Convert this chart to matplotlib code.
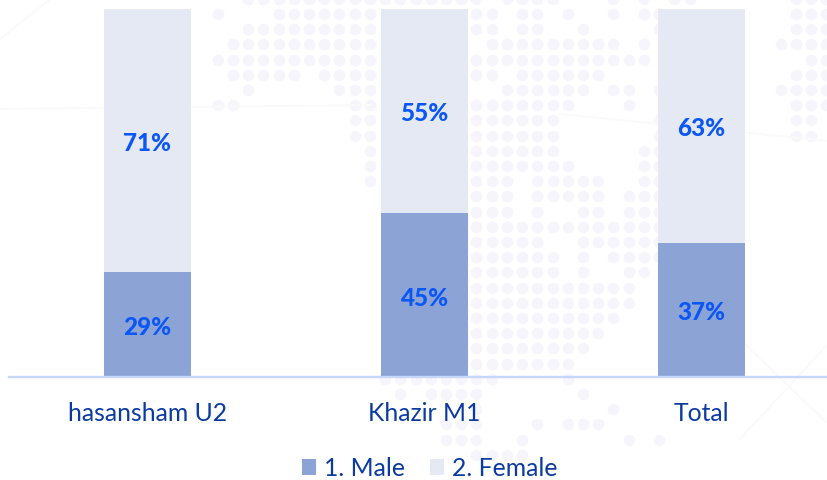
import matplotlib
matplotlib.use("Agg")
import matplotlib.pyplot as plt

categories = ["hasansham U2", "Khazir M1", "Total"]
male = [28.4, 44.4, 36.4]
female = [71.6, 55.6, 63.6]
series_names = ["1. Male", "2. Female"]
male_labels = ["29%", "45%", "37%"]
female_labels = ["71%", "55%", "63%"]

# decorative world-map dot pattern of the backdrop: row -> column spans
dot_rows = {
    -1: [(2, 17), (19, 22), (26, 26), (28, 28), (30, 31), (38, 40)],
    0: [(0, 0), (4, 10), (17, 18), (20, 21), (23, 23), (26, 26), (28, 29), (38, 40)],
    1: [(2, 10), (17, 18), (20, 21), (24, 24), (29, 29), (38, 40)],
    2: [(1, 10), (18, 26), (28, 28), (37, 40)],
    3: [(0, 10), (17, 28), (39, 40)],
    4: [(1, 5), (7, 10), (17, 18), (20, 25), (38, 40)],
    5: [(2, 2), (8, 10), (19, 24), (26, 27), (29, 29), (37, 40)],
    6: [(0, 1), (9, 10), (17, 23), (27, 27), (38, 40)],
    7: [(9, 10), (17, 22), (29, 29), (38, 39)],
    8: [(9, 10), (17, 22), (29, 29), (38, 39)],
    9: [(10, 10), (17, 22), (28, 29)],
    10: [(10, 10), (17, 23), (28, 29)],
    11: [(10, 10), (17, 19), (21, 25), (28, 29)],
    12: [(17, 19), (21, 25), (27, 29)],
    13: [(17, 19), (21, 21), (24, 25), (27, 29)],
    14: [(17, 29)],
    15: [(17, 21), (24, 29)],
    16: [(17, 22), (24, 24), (26, 29)],
    17: [(17, 22), (24, 24), (27, 28)],
    18: [(17, 27)],
    19: [(17, 27)],
    20: [(17, 26)],
    21: [(17, 25)],
    22: [(17, 24)],
    23: [(17, 23)],
    24: [(11, 18), (23, 23)],
    25: [(12, 12), (14, 17), (24, 24)],
    26: [(17, 17), (26, 26)],
    27: [(15, 17), (21, 21), (23, 25)],
    28: [(15, 17), (20, 20), (27, 27), (29, 29)],
    29: [(17, 20)],
}
faint_lines = [
    ((0, 40), (50, 0)),
    ((0, 110), (370, 106)),
    ((560, 115), (828, 142)),
    ((745, 345), (828, 425)),
    ((828, 345), (740, 440)),
]

plt.rcParams["font.family"] = ["Lato", "DejaVu Sans"]
W, H = 828, 481
fig = plt.figure(figsize=(W / 100, H / 100), dpi=100, facecolor="white")

bg = fig.add_axes([0, 0, 1, 1], zorder=0)
bg.set_xlim(0, W)
bg.set_ylim(H, 0)
bg.axis("off")
xs, ys = [], []
for j, spans in dot_rows.items():
    for a, b in spans:
        for i in range(a, b + 1):
            xs.append(217.7 + 15.22 * i)
            ys.append(15 + 15.2 * j)
bg.scatter(xs, ys, s=70, color="#F5F5FB", linewidths=0)
for p, q in faint_lines:
    bg.plot([p[0], q[0]], [p[1], q[1]], color="#FAFAFB", lw=1.5)

ax = fig.add_axes([9 / W, (H - 378) / H, (W - 9) / W, (378 - 9.5) / H], zorder=1)
ax.patch.set_alpha(0)
x = list(range(len(categories)))
width = 0.314
b1 = ax.bar(x, male, width, color="#8CA3D6", label=series_names[0])
b2 = ax.bar(x, female, width, bottom=male, color="#E5E9F4", label=series_names[1])
ax.set_xlim(-0.5, 2.5 - 12 / 277)
ax.set_ylim(0, 100)

label_style = dict(ha="center", va="center", color="#0B57F5", fontsize=17.5, fontweight="black")
for xi, m, f, ml, fl in zip(x, male, female, male_labels, female_labels):
    ax.text(xi, m / 2 - 0.5, ml, **label_style)
    ax.text(xi, m + f / 2 - 0.5, fl, **label_style)

for s in ["top", "left", "right"]:
    ax.spines[s].set_visible(False)
ax.spines["bottom"].set_color("#C5D8FC")
ax.spines["bottom"].set_linewidth(1.7)
ax.set_yticks([])
ax.set_xticks(x, categories)
ax.tick_params(axis="x", length=0, pad=17, labelsize=17.8, labelcolor="#0B3AA0")

handles = [b1, b2]
leg = ax.legend(
    handles, series_names, loc="center", bbox_to_anchor=(429.5 / W, 1 - 469 / H),
    bbox_transform=fig.transFigure, ncol=2, frameon=False, fontsize=17.8,
    labelcolor="#0B3AA0", handlelength=0.6, handleheight=0.6, handletextpad=0.3,
    columnspacing=1.0, borderpad=0, borderaxespad=0,
)
fig.savefig("out.png", dpi=100, facecolor="white")
